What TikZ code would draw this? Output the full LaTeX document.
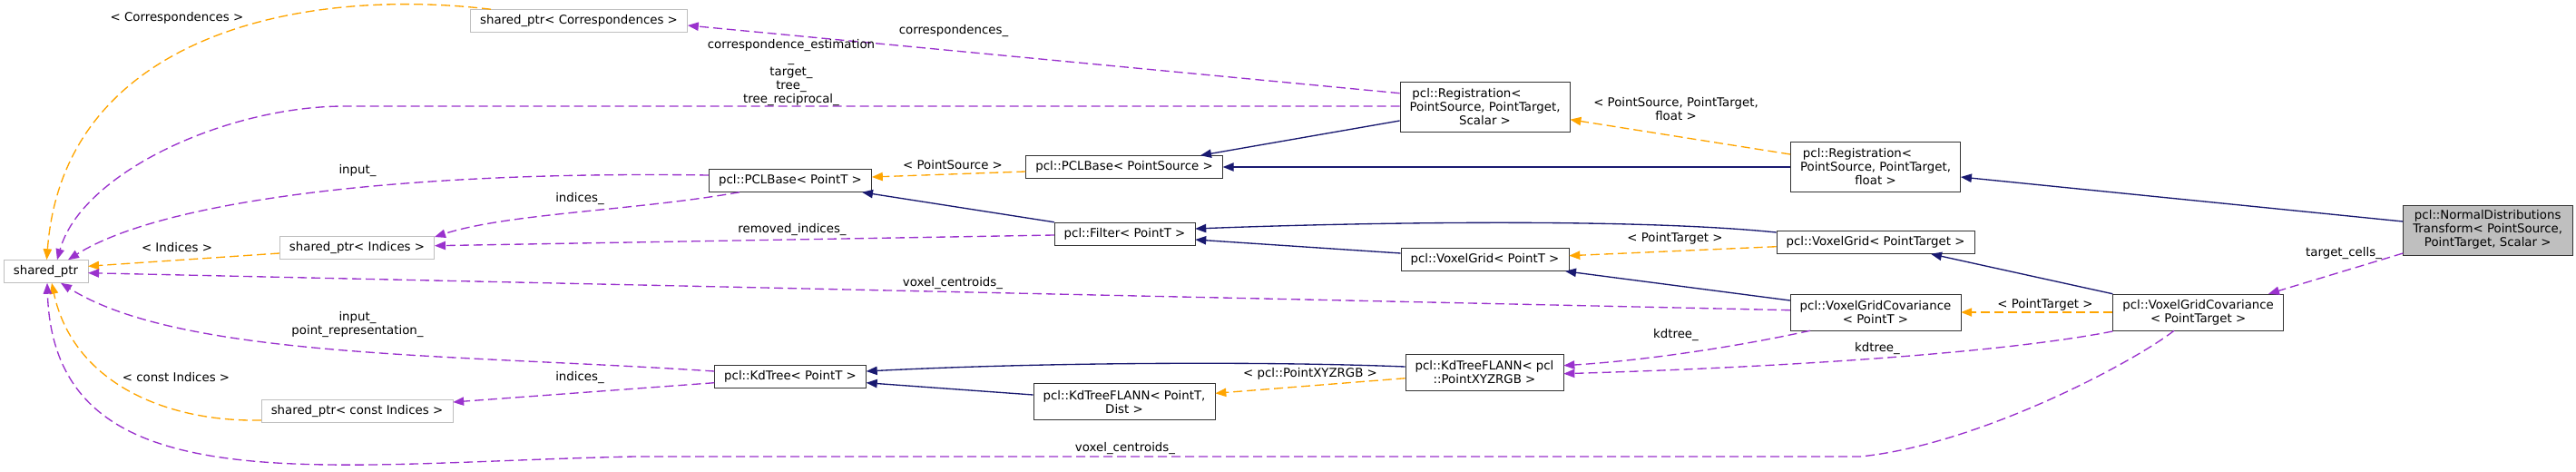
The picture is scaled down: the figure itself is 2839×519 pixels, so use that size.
\documentclass[tikz,border=0pt]{standalone}
\usepackage{fontspec}
\setmainfont{DejaVu Sans}
\usetikzlibrary{arrows.meta}
\definecolor{inhblue}{HTML}{191970}
\definecolor{usepurple}{HTML}{9A32CD}
\definecolor{tmplorange}{HTML}{FFA500}
\begin{document}
\begin{tikzpicture}[x=0.75pt,y=-0.75pt,font=\fontsize{10}{11.25}\selectfont,
  cls/.style={draw=black!80,fill=white,align=center,inner xsep=8pt,inner ysep=1pt,minimum height=18.75pt},
  ptr/.style={cls,draw=black!25},
  twolines/.style={minimum height=30pt},
  threelines/.style={minimum height=41.25pt},
  lbl/.style={align=center,inner sep=0pt},
  inh/.style={draw=inhblue,line width=1pt,-{Triangle[length=9pt,width=7pt]}},
  uses/.style={draw=usepurple,line width=1pt,dash pattern=on 7.5pt off 3.75pt,-{Triangle[length=9pt,width=7pt]}},
  tmpl/.style={draw=tmplorange,line width=1pt,dash pattern=on 7.5pt off 3.75pt,-{Triangle[length=9pt,width=7pt]}}]
\useasboundingbox (0,0) rectangle (2839,519);
\node[ptr] (sp) at (50.5,299) {shared\_ptr};
\node[ptr] (spcorr) at (638,23) {shared\_ptr< Correspondences >};
\node[ptr] (spidx) at (393.5,272.5) {shared\_ptr< Indices >};
\node[ptr] (spcidx) at (393.5,452.5) {shared\_ptr< const Indices >};
\node[cls] (pclbaset) at (871,199) {pcl::PCLBase< PointT >};
\node[cls] (pclbases) at (1239,184) {pcl::PCLBase< PointSource >};
\node[cls] (filter) at (1239.5,257.5) {pcl::Filter< PointT >};
\node[cls,threelines] (regs) at (1636.5,117.5) {pcl::Registration<\hspace*{30pt}\\PointSource, PointTarget,\\Scalar >};
\node[cls,threelines] (regf) at (2067,184) {pcl::Registration<\hspace*{30pt}\\PointSource, PointTarget,\\float >};
\node[cls,threelines,fill=black!25] (ndt) at (2741.7,253.3) {pcl::NormalDistributions\\Transform< PointSource,\\PointTarget, Scalar >};
\node[cls] (vgt) at (2067,267) {pcl::VoxelGrid< PointTarget >};
\node[cls] (vg) at (1636.5,286) {pcl::VoxelGrid< PointT >};
\node[cls,twolines] (vgc) at (2067,344) {pcl::VoxelGridCovariance\\< PointT >};
\node[cls,twolines] (vgct) at (2422.6,344) {pcl::VoxelGridCovariance\\< PointTarget >};
\node[cls,twolines] (kdrgb) at (1636,410) {pcl::KdTreeFLANN< pcl\\::PointXYZRGB >};
\node[cls,twolines] (kdflann) at (1239,442.7) {pcl::KdTreeFLANN< PointT,\\Dist >};
\node[cls] (kdtree) at (871,415) {pcl::KdTree< PointT >};

\draw[inh] (ndt.west |- 0,244) -- (regf.east |- 0,195);
\draw[inh] (regf.west |- 0,184) -- (pclbases.east);
\draw[inh] (regs.west |- 0,133) -- (pclbases.north -| 1323,0);
\draw[inh] (filter.north west) -- (pclbaset.south -| 950,0);
\draw[inh] (vgt.west |- 0,256) .. controls (1800,240) and (1500,245) .. (filter.east |- 0,252);
\draw[inh] (vg.west |- 0,279) -- (filter.east |- 0,264);
\draw[inh] (vgc.west |- 0,331) -- (vg.south -| 1725,0);
\draw[inh] (vgct.north west) -- (vgt.south -| 2128,0);
\draw[inh] (kdrgb.west |- 0,404) .. controls (1400,398) and (1150,399) .. (kdtree.east |- 0,409);
\draw[inh] (kdflann.west |- 0,435) -- (kdtree.east |- 0,421.7);

\draw[tmpl] (regf.west |- 0,170) -- (regs.east |- 0,131.7);
\node[lbl] (lregf) at (1847,120) {< PointSource, PointTarget,\\float >};
\draw[tmpl] (pclbases.west |- 0,189) -- (pclbaset.east |- 0,195);
\node[lbl] (lpclbase) at (1050,182) {< PointSource >};
\draw[tmpl] (vgt.west |- 0,271.7) -- (vg.east |- 0,281.7);
\node[lbl] (lvg) at (1846,263) {< PointTarget >};
\draw[tmpl] (vgct.west) -- (vgc.east);
\node[lbl] (lvgc) at (2254,336) {< PointTarget >};
\draw[tmpl] (kdrgb.west |- 0,416.7) -- (kdflann.east |- 0,433.3);
\node[lbl] (lkdrgb) at (1444,412) {< pcl::PointXYZRGB >};
\draw[tmpl] (spcorr.north -| 541,0) .. controls (330,-15) and (70,40) .. (sp.north -| 51.5,0);
\node[lbl] (lcorr) at (195,20) {< Correspondences >};
\draw[tmpl] (spidx.west |- 0,279) -- (sp.east |- 0,293.3);
\node[lbl] (lidx) at (195,273) {< Indices >};
\draw[tmpl] (spcidx.west |- 0,463) .. controls (180,465) and (80,420) .. (sp.south -| 57,0);
\node[lbl] (lcidx) at (194,416) {< const Indices >};

\draw[uses] (regs.west |- 0,102.7) -- (spcorr.east |- 0,28);
\node[lbl] (lcorrs) at (1051,34) {correspondences\_};
\draw[uses] (regs.west |- 0,117) -- (380,117) .. controls (250,117) and (90,190) .. (sp.north -| 63,0);
\node[lbl] (lest) at (872,80) {correspondence\_estimation\\\_\\target\_\\tree\_\\tree\_reciprocal\_};
\draw[uses] (pclbaset.west |- 0,193) .. controls (450,188) and (180,220) .. (sp.north -| 75,0);
\node[lbl] (linput) at (394,188) {input\_};
\draw[uses] (pclbaset.south -| 815,0) .. controls (700,232) and (560,235) .. (spidx.east |- 0,261);
\node[lbl] (lindices) at (639,219) {indices\_};
\draw[uses] (filter.west |- 0,259) -- (spidx.east |- 0,270.7);
\node[lbl] (lremoved) at (873,253) {removed\_indices\_};
\draw[uses] (vgc.west |- 0,341.7) -- (sp.east |- 0,300.7);
\node[lbl] (lvoxel) at (1050,312) {voxel\_centroids\_};
\draw[uses] (kdtree.west |- 0,409) .. controls (500,390) and (200,395) .. (sp.south -| 67,0);
\node[lbl] (lpointrep) at (394,357) {input\_\\point\_representation\_};
\draw[uses] (kdtree.west |- 0,421.7) -- (spcidx.east |- 0,443);
\node[lbl] (lcindices) at (639,416) {indices\_};
\draw[uses] (vgc.south -| 1995,0) .. controls (1900,385) and (1800,398) .. (kdrgb.east |- 0,402.7);
\node[lbl] (lkdtree) at (1847,369) {kdtree\_};
\draw[uses] (vgct.west |- 0,365) .. controls (2200,390) and (1950,405) .. (kdrgb.east |- 0,411.7);
\node[lbl] (lkdtreet) at (2069,384) {kdtree\_};
\draw[uses] (vgct.south -| 2396,0) .. controls (2350,400) and (2180,490) .. (2050,503) -- (700,503) .. controls (350,510) and (60,560) .. (sp.south -| 52,0);
\node[lbl] (lvoxelt) at (1240,494) {voxel\_centroids\_};
\draw[uses] (ndt.west |- 0,279) -- (vgct.north -| 2500,0);
\node[lbl] (lcells) at (2583,279) {target\_cells\_};
\end{tikzpicture}
\end{document}
